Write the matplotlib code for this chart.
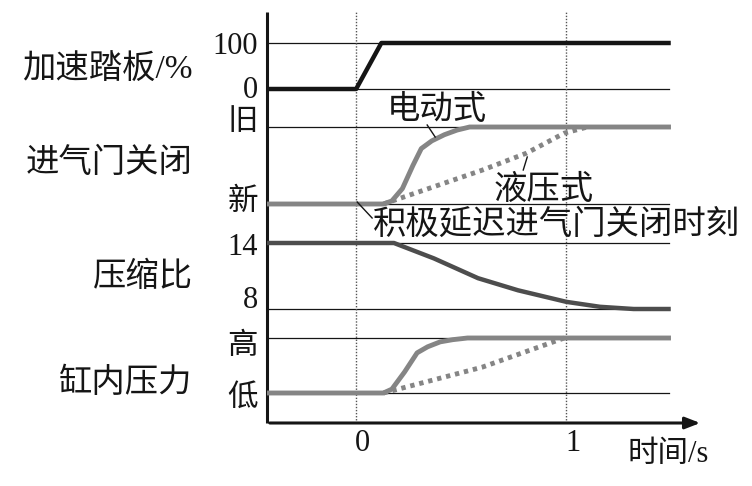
import matplotlib
matplotlib.use("Agg")
import matplotlib.pyplot as plt
import numpy as np

plt.rcParams['font.family'] = ['Liberation Serif', 'Noto Sans CJK SC', 'DejaVu Sans']

# time axis (s)
t_min, t_end, t_arrow = -0.424, 1.486, 1.65

# accelerator pedal (%)
pedal_t = [t_min, 0.0, 0.12, t_end]
pedal_v = [0, 0, 100, 100]

# intake valve closing, 0 = 新 (new), 1 = 旧 (old)
valve_el_t = [t_min, 0.13, 0.17, 0.22, 0.27, 0.31, 0.36, 0.42, 0.48, 0.54, t_end]
valve_el_v = [0, 0, 0.04, 0.2, 0.5, 0.72, 0.82, 0.9, 0.96, 1.0, 1.0]
valve_hy_t = [0.13, 0.6, 0.81, 0.99, 1.1]
valve_hy_v = [0, 0.44, 0.66, 0.92, 1.0]

# compression ratio
comp_t = [t_min, 0.18, 0.37, 0.58, 0.77, 1.0, 1.16, 1.32, t_end]
comp_v = [14, 14, 12.6, 10.8, 9.7, 8.65, 8.2, 8.0, 8.0]

# cylinder pressure, 0 = 低, 1 = 高
pres_el_t = [t_min, 0.13, 0.17, 0.23, 0.29, 0.34, 0.40, 0.46, 0.53, t_end]
pres_el_v = [0, 0, 0.07, 0.38, 0.73, 0.84, 0.93, 0.97, 1.0, 1.0]
pres_hy_t = [0.13, 0.6, 0.99]
pres_hy_v = [0, 0.47, 1.0]

# band layout: (value low, value high, y low, y high)
bands = {
    'pedal': (0, 100, 334, 380),
    'valve': (0, 1, 219, 296),
    'comp': (8, 14, 114, 180),
    'pres': (0, 1, 30, 85),
}


def to_y(name, v):
    v0, v1, y0, y1 = bands[name]
    return y0 + (np.asarray(v, float) - v0) / (v1 - v0) * (y1 - y0)


fig = plt.figure(figsize=(7.52, 4.86), dpi=100)
ax = fig.add_axes([267 / 752, 63 / 486, 436 / 752, 411 / 486])
ax.set_xlim(t_min, t_arrow)
ax.set_ylim(0, 411)
ax.axis('off')

black = '#151515'
gray = '#858585'
dark = '#4d4d4d'

# axes
ax.plot([t_min, t_min], [0, 411], color=black, lw=2.2, clip_on=False, solid_capstyle='butt')
ax.annotate('', xy=(t_arrow, 0), xytext=(t_min, 0),
            arrowprops=dict(arrowstyle='-|>,head_length=0.9,head_width=0.35', color=black, lw=2.2),
            annotation_clip=False)

# reference lines
for name in bands:
    v0, v1, y0, y1 = bands[name]
    for y in (y0, y1):
        ax.plot([t_min, t_end], [y, y], color=black, lw=0.9)

for tt in (0, 1):
    ax.plot([tt, tt], [0, 411], color='#555555', lw=1.0, ls=(0, (1, 1.2)))

# curves
ax.plot(pedal_t, to_y('pedal', pedal_v), color=black, lw=3.2, solid_joinstyle='round')
ax.plot(valve_el_t, to_y('valve', valve_el_v), color=gray, lw=3.5, solid_joinstyle='round')
ax.plot(valve_hy_t, to_y('valve', valve_hy_v), color=gray, lw=3.5, ls=(0, (0.9, 1.0)))
ax.plot(comp_t, to_y('comp', comp_v), color=dark, lw=3.2, solid_joinstyle='round')
ax.plot(pres_el_t, to_y('pres', pres_el_v), color=gray, lw=3.5, solid_joinstyle='round')
ax.plot(pres_hy_t, to_y('pres', pres_hy_v), color=gray, lw=3.5, ls=(0, (0.9, 1.0)))

fs = 24
cjk = dict(fontsize=fs, color=black, fontweight='light')

# tick labels on the vertical axis
tick_labels = ['100', '0', '旧', '新', '14', '8', '高', '低']
tick_y = [376, 333, 301, 221, 176, 123, 76, 25]
tx = (258 - 356) / 210
for lab, y in zip(tick_labels, tick_y):
    ax.text(tx, y, lab, ha='right', va='center', clip_on=False, **dict(cjk, fontsize=fs - 2))

# row names
row_names = ['加速踏板/%', '进气门关闭', '压缩比', '缸内压力']
row_y = [353, 260, 146, 40]
rx = (193 - 356) / 210
for lab, y in zip(row_names, row_y):
    ax.text(rx, y, lab, ha='right', va='center', clip_on=False, **cjk)

# time ticks
for lab, tt in (('0', 0.03), ('1', 1.03)):
    ax.text(tt, -20, lab, ha='center', va='center', clip_on=False, **dict(cjk, fontsize=fs - 2))
ax.text(1.29, -31, '时间/s', ha='left', va='center', clip_on=False, **dict(cjk, fontsize=fs - 2))

# annotations
ax.text(0.148, 313, '电动式', ha='left', va='center', **cjk)
ax.plot([0.338, 0.376], [298, 286], color=black, lw=1)
ax.text(0.652, 233, '液压式', ha='left', va='center', **cjk)
ax.plot([0.795, 0.814], [253, 266], color=black, lw=1)
ax.text(0.081, 198, '积极延迟进气门关闭时刻', ha='left', va='center', clip_on=False, **cjk)
ax.plot([0.005, 0.076], [221, 205], color=black, lw=1)

fig.savefig('out.png', dpi=100, facecolor='white')
